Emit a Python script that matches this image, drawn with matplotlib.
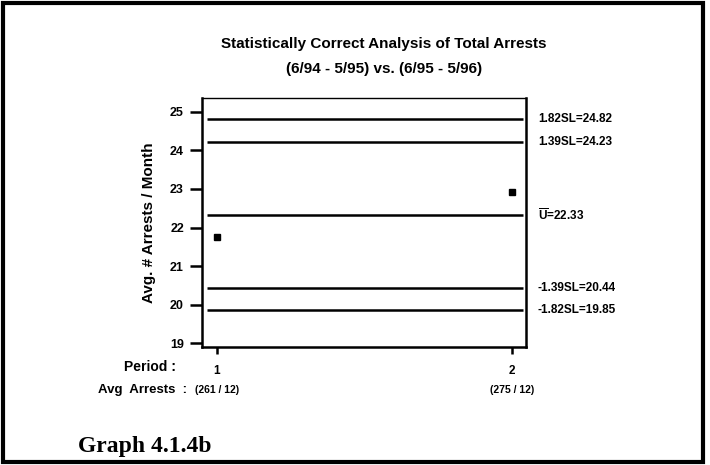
import matplotlib
matplotlib.use("Agg")
import matplotlib.pyplot as plt
from matplotlib.patches import Rectangle

plt.rcParams['font.family'] = ['Liberation Sans', 'DejaVu Sans']
plt.rcParams['font.weight'] = 'bold'
plt.rcParams['mathtext.fontset'] = 'custom'
plt.rcParams['mathtext.rm'] = 'Liberation Sans:bold'
plt.rcParams['mathtext.sf'] = 'Liberation Sans:bold'

periods = [1, 2]
avg_arrests = [21.75, 22.92]
period_labels = ["1", "2"]
avg_labels = ["(261 / 12)", "(275 / 12)"]
limit_values = [24.82, 24.23, 22.33, 20.44, 19.85]
limit_labels = ["1.82SL=24.82", "1.39SL=24.23", r"$\overline{\mathsf{U}}$=22.33",
                "-1.39SL=20.44", "-1.82SL=19.85"]
yticks = [19, 20, 21, 22, 23, 24, 25]

W, H = 710, 465
fig = plt.figure(figsize=(W / 100, H / 100), dpi=100)

def fx(px):
    return px / W

def fy(py):
    return 1 - py / H

ax = fig.add_axes([fx(202), fy(347), fx(526) - fx(202), fy(98) - fy(347)])
ax.set_xlim(0.949, 2.047)
ax.set_ylim(18.9, 25.36)

ax.hlines(limit_values, 0.966, 2.037, colors='black', linewidth=1.8)
ax.plot(periods, avg_arrests, linestyle='none', marker='s', markersize=5,
        color='black')

for v, lab in zip(limit_values, limit_labels):
    ax.text(1.037, v, lab, transform=ax.get_yaxis_transform(), ha='left',
            va='center', fontsize=8.5, fontweight='bold')

ax.set_yticks(yticks)
ax.set_yticklabels([str(t) for t in yticks], fontsize=9, fontweight='bold')
ax.set_xticks(periods)
ax.set_xticklabels(period_labels, fontsize=8.5, fontweight='bold')
ax.tick_params(axis='y', direction='out', length=9, width=1.8, pad=4)
ax.tick_params(axis='x', direction='out', length=5, width=1.8, pad=8)
for s in ax.spines.values():
    s.set_linewidth(1.8)
ax.spines['top'].set_linewidth(1.0)

ax.set_ylabel("Avg. # Arrests / Month", fontsize=11, fontweight='bold', labelpad=10)

for x, lab in zip(periods, avg_labels):
    ax.annotate(lab, xy=(x, 0), xycoords=('data', 'axes fraction'),
                xytext=(0, -43), textcoords='offset pixels', ha='center',
                va='center', fontsize=7.5, fontweight='bold')

fig.text(fx(176), fy(367), "Period :", ha='right', va='center', fontsize=10,
         fontweight='bold')
fig.text(fx(187), fy(390), "Avg  Arrests  :", ha='right', va='center',
         fontsize=9.5, fontweight='bold')

fig.text(fx(384), fy(44), "Statistically Correct Analysis of Total Arrests",
         ha='center', va='center', fontsize=11, fontweight='bold')
fig.text(fx(384), fy(69), "(6/94 - 5/95) vs. (6/95 - 5/96)",
         ha='center', va='center', fontsize=11, fontweight='bold')

fig.text(fx(78), fy(446), "Graph 4.1.4b", ha='left', va='center',
         fontsize=17, fontweight='bold', family=['Liberation Serif', 'DejaVu Serif'])

fig.add_artist(Rectangle((fx(3), fy(462)), fx(703) - fx(3), fy(3) - fy(462),
                         transform=fig.transFigure, fill=False,
                         edgecolor='black', linewidth=3))

fig.savefig("out.png", dpi=100)
